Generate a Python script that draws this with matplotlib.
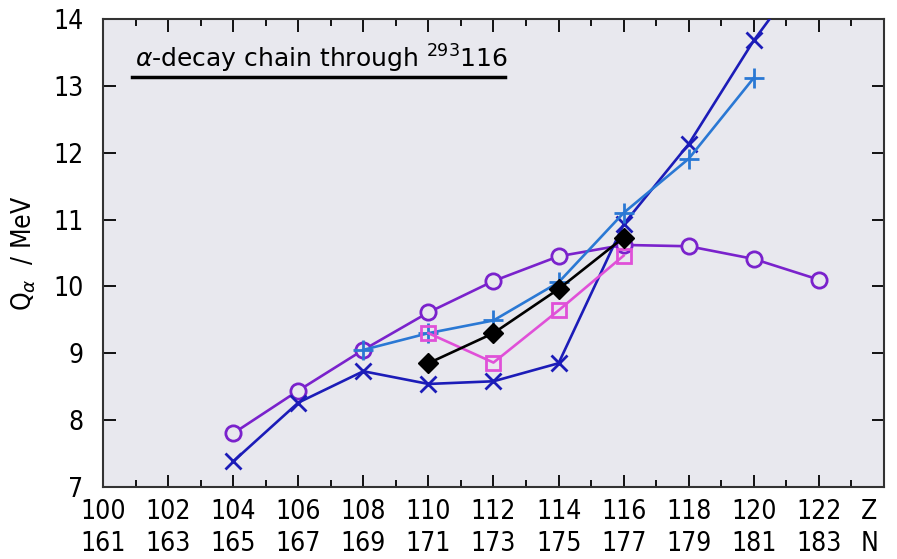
import matplotlib

matplotlib.use("Agg")
import matplotlib.pyplot as plt
from matplotlib.lines import Line2D

# Q_alpha values (MeV) along the alpha-decay chain through 293-116
z_circle = [104, 106, 108, 110, 112, 114, 116, 118, 120, 122]
q_circle = [7.80, 8.44, 9.05, 9.61, 10.08, 10.45, 10.62, 10.60, 10.41, 10.10]

z_cross = [104, 106, 108, 110, 112, 114, 116, 118, 120, 122]
q_cross = [7.38, 8.26, 8.73, 8.54, 8.58, 8.85, 10.93, 12.13, 13.68, 15.0]

z_plus = [108, 110, 112, 114, 116, 118, 120]
q_plus = [9.05, 9.30, 9.49, 10.06, 11.10, 11.91, 13.12]

z_square = [110, 112, 114, 116]
q_square = [9.30, 8.86, 9.64, 10.46]

z_diamond = [110, 112, 114, 116]
q_diamond = [8.85, 9.30, 9.96, 10.73]

z_ticks = list(range(100, 124, 2))
tick_labels = [f"{z}\n{z + 61}" for z in z_ticks]

FONT = "DejaVu Sans"
TICK_FS = 19

fig = plt.figure(figsize=(8.97, 5.59), dpi=100)
ax = fig.add_axes([0.1148, 0.129, 0.8707, 0.837])
ax.set_facecolor("#e8e8ee")

lw = 1.9
ax.plot(z_circle, q_circle, color="#7a22cc", lw=lw, marker="o", ms=11,
        mfc="#e8e8ee", mec="#7a22cc", mew=2, zorder=3)
ax.plot(z_cross, q_cross, color="#1c1cb8", lw=lw, marker="x", ms=11,
        mew=2, zorder=4)
ax.plot(z_plus, q_plus, color="#2a78d4", lw=lw, marker="+", ms=14,
        mew=2, zorder=4)
ax.plot(z_square, q_square, color="#e050d8", lw=lw, marker="s", ms=10,
        mfc="none", mec="#e050d8", mew=2, zorder=5)
ax.plot(z_diamond, q_diamond, color="black", lw=lw, marker="D", ms=10,
        zorder=6)

ax.set_xlim(100, 124)
ax.set_ylim(7, 14)
ax.set_xticks(z_ticks)
ax.set_xticks(range(101, 124, 2), minor=True)
ax.set_xticklabels(tick_labels, fontsize=TICK_FS, family=FONT,
                   stretch="condensed", linespacing=1.3)
ax.set_yticks(range(7, 15))
ax.set_yticklabels([str(v) for v in range(7, 15)], fontsize=TICK_FS,
                   family=FONT, stretch="condensed")
ax.tick_params(axis="both", which="major", direction="in", length=9,
               width=1.3, top=True, right=True)
ax.tick_params(axis="x", which="major", pad=9)
ax.tick_params(axis="y", which="major", pad=14)
ax.tick_params(axis="x", which="minor", direction="in", length=5,
               width=1.3, top=True)
for sp in ax.spines.values():
    sp.set_linewidth(1.5)
    sp.set_color("#333333")

ax.text(123.55, -0.026, "Z\nN", transform=ax.get_xaxis_transform(),
        ha="center", va="top", fontsize=TICK_FS, family=FONT,
        stretch="condensed", linespacing=1.3)

ax.set_ylabel(r"Q$_\alpha$  / MeV", fontsize=19, family=FONT,
              stretch="condensed", labelpad=11)

ax.text(0.041, 0.914, r"$\alpha$-decay chain through $^{293}$116",
        transform=ax.transAxes, fontsize=18, family=FONT,
        ha="left", va="center")
ax.add_line(Line2D([0.037, 0.515], [0.876, 0.876], transform=ax.transAxes,
                   color="black", lw=2.5))

plt.savefig("out.png", dpi=100)
